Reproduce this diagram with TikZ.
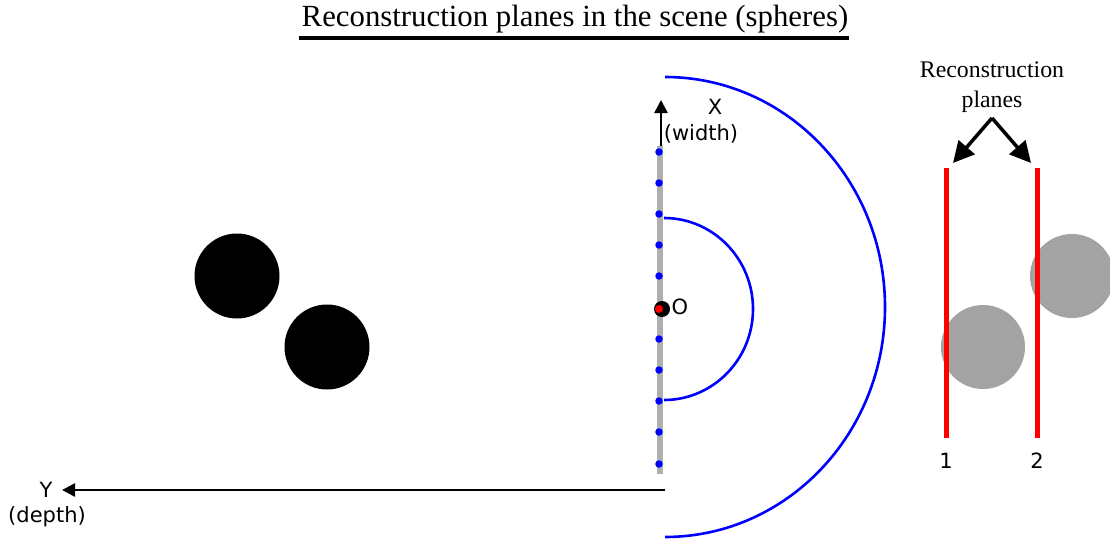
\documentclass[tikz,border=0pt]{standalone}
\usepackage{fontspec}
\setmainfont{Liberation Serif}
\newfontfamily\axisfont{DejaVu Sans}
\usetikzlibrary{arrows.meta}
\definecolor{bargray}{RGB}{175,175,175}
\definecolor{spheregray}{RGB}{163,163,163}
\tikzset{
  axislabel/.style={font=\axisfont\fontsize{21}{25}\selectfont, inner sep=0pt},
  axisarrow/.style={line width=2.5pt, -{Triangle[length=13pt,width=13pt]}},
  bigarrow/.style={line width=3.5pt, -{Triangle[length=21pt,width=21pt]}},
  bluearc/.style={blue, line width=2.6pt},
  bluedot/.style={circle, fill=blue, inner sep=0pt, minimum size=7.5pt},
  plane/.style={red, line width=5pt},
  blacksphere/.style={circle, fill=black, inner sep=0pt, minimum size=85pt},
  graysphere/.style={circle, fill=spheregray, inner sep=0pt, minimum size=84pt},
}
\begin{document}
\begin{tikzpicture}[x=1pt,y=-1pt]
\useasboundingbox (0,0) rectangle (1110,538);

% title
\node[font=\fontsize{30.8}{34}\selectfont, inner sep=0pt] (title) at (575,19) {Reconstruction planes in the scene (spheres)};
\draw[line width=3.5pt] (299,38) -- (849,38);

% sensor bar
\draw[bargray, line width=6pt] (660,146) -- (660,474);
\coordinate (xbase) at (661,146);
\coordinate (xtip) at (661,100);
\draw[axisarrow] (xbase) -- (xtip);
\node[axislabel] (xlab) at (715,107) {X};
\node[axislabel] (wlab) at (701,134) {(width)};

% dots
\foreach \y [count=\i] in {152,183,214,245,276,339,370,401,432,464}
  \node[bluedot] (d\i) at (659,\y) {};

% origin
\node[circle, fill=black, inner sep=0pt, minimum size=16pt] (O) at (662,309) {};
\node[circle, fill=red, inner sep=0pt, minimum size=8pt] (Or) at (659,309) {};
\node[axislabel] (olab) at (680,307) {O};

% arcs
\draw[bluearc] (664,218) arc[start angle=-90, end angle=90, x radius=89, y radius=91];
\draw[bluearc] (665,77) arc[start angle=-90, end angle=90, x radius=220, y radius=230];

% Y axis
\coordinate (ybase) at (665,490);
\coordinate (ytip) at (62,490);
\draw[axisarrow] (ybase) -- (ytip);
\node[axislabel] (ylab) at (46,490) {Y};
\node[axislabel] (dlab) at (47,517) {(depth)};

% black spheres
\node[blacksphere] (s1) at (237,276) {};
\node[blacksphere] (s2) at (327,347) {};

% gray spheres
\node[graysphere] (g1) at (983,347) {};
\node[graysphere] (g2) at (1072,276) {};

% planes
\coordinate (p1t) at (946,168);
\coordinate (p1b) at (946,438);
\coordinate (p2t) at (1037,168);
\coordinate (p2b) at (1037,438);
\draw[plane] (p1t) -- (p1b);
\draw[plane] (p2t) -- (p2b);
\node[axislabel] (n1) at (946,461) {1};
\node[axislabel] (n2) at (1037,461) {2};

% label + arrows
\node[font=\fontsize{23.8}{30}\selectfont, align=center, inner sep=0pt] (rp) at (992,87) {Reconstruction\\planes};
\coordinate (apex) at (992,118);
\coordinate (la) at (953,163);
\coordinate (ra) at (1031,163);
\draw[bigarrow] (apex) -- (la);
\draw[bigarrow] (apex) -- (ra);
\end{tikzpicture}
\end{document}
